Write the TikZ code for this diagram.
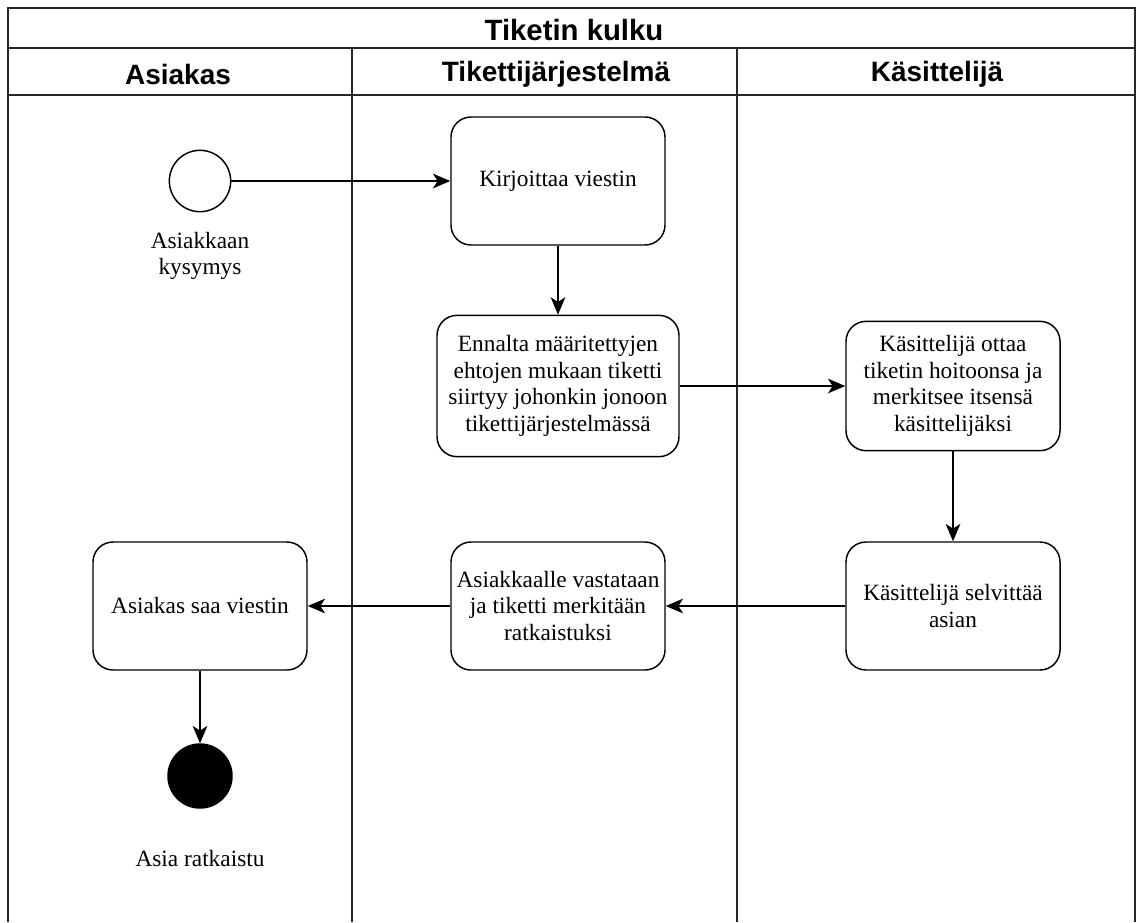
\documentclass[tikz,border=0pt]{standalone}
\usepackage{fontspec}
\setmainfont{Liberation Serif}
\newfontfamily\headfont{Liberation Sans}
\usetikzlibrary{arrows.meta}

\begin{document}
\begin{tikzpicture}
        [x=0.75pt, y=-0.75pt,
        lane/.style={line width=1.5pt, black!85},
        head/.style={font=\headfont\bfseries\fontsize{21}{24}\selectfont},
        box/.style={rectangle, rounded corners=15pt, draw, line width=1.1pt, align=center, inner sep=0pt,
          minimum width=160.5pt, minimum height=96pt, font=\fontsize{17.5}{20}\selectfont},
        lbl/.style={align=center, font=\fontsize{17.5}{20}\selectfont},
        circleWhite/.style={circle, draw, line width=1.1pt, minimum size=46pt, inner sep=0pt},
        circleBlack/.style={circle, draw, fill=black, line width=1.1pt, minimum size=48pt, inner sep=0pt},
        arr/.style={line width=1.1pt, -{Stealth[length=13pt, width=11pt, inset=3.5pt]}}]
        \useasboundingbox (0,0) rectangle (1137,922);

        % swimlanes
        \draw[lane] (8,922) -- (8,8) -- (1135,8) -- (1135,922);
        \draw[lane] (8,48) -- (1135,48);
        \draw[lane] (8,95) -- (1135,95);
        \draw[lane] (352,48) -- (352,922);
        \draw[lane] (737,48) -- (737,922);

        \node[head, font=\headfont\bfseries\fontsize{22}{26}\selectfont] (T) at (574,30) {Tiketin kulku};
        \node[head] (H1) at (178,74) {Asiakas};
        \node[head] (H2) at (556,74) {Tikettijärjestelmä};
        \node[head] (H3) at (937,74) {Käsittelijä};

        % actions
        \node[circleWhite] (S) at (200,181) {};
        \node[lbl] (SL) at (200,256) {Asiakkaan\\kysymys};
        \node[box] (A) at (558,181) {Kirjoittaa viestin};
        \node[box, minimum width=181.5pt, minimum height=106pt] (B) at (558,386) {Ennalta määritettyjen\\ehtojen mukaan tiketti\\siirtyy johonkin jonoon\\tikettijärjestelmässä};
        \node[box, minimum height=97pt] (C) at (953,386) {Käsittelijä ottaa\\tiketin hoitoonsa ja\\merkitsee itsensä\\käsittelijäksi};
        \node[box] (D) at (953,606) {Käsittelijä selvittää\\asian};
        \node[box] (E) at (558,606) {Asiakkaalle vastataan\\ja tiketti merkitään\\ratkaistuksi};
        \node[box] (F) at (200,606) {Asiakas saa viestin};
        \node[circleBlack] (G) at (200,776) {};
        \node[lbl] (GL) at (200,858) {Asia ratkaistu};

        \draw[arr] (S) -- (A);
        \draw[arr] (A) -- (B);
        \draw[arr] (B) -- (C);
        \draw[arr] (C) -- (D);
        \draw[arr] (D) -- (E);
        \draw[arr] (E) -- (F);
        \draw[arr] (F) -- (G);

    \end{tikzpicture}
\end{document}
